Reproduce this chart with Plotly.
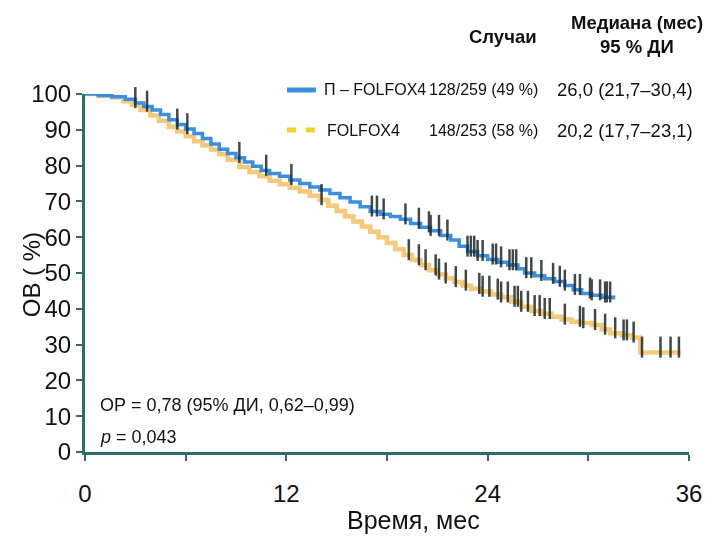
import numpy as np
import plotly.graph_objects as go

# ---- data ----
months_tick_vals = [0, 6, 12, 18, 24, 30, 36]
months_tick_text = ["0", "", "12", "", "24", "", "36"]
os_tick_vals = list(range(0, 101, 10))

arm_names = ["П – FOLFOX4", "FOLFOX4"]
arm_events = ["128/259 (49\u00a0%)", "148/253 (58\u00a0%)"]
arm_median = ["26,0 (21,7–30,4)", "20,2 (17,7–23,1)"]

p_t = [0, 0.8, 1.6, 2.4, 3.0, 3.5, 4.0, 4.5, 5.0, 5.5, 6.0, 6.5, 7.0, 7.5, 8.0, 8.5, 9.0, 9.5,
       10.0, 10.5, 11.0, 11.6, 12.2, 12.8, 13.4, 14.0, 14.6, 15.2, 15.8, 16.4, 17.0, 17.6, 18.2,
       18.8, 19.4, 20.0, 20.6, 21.2, 21.8, 22.3, 22.8, 23.4, 24.0, 24.6, 25.2, 25.8, 26.2, 26.8,
       27.4, 28.0, 28.6, 29.1, 29.6, 30.2, 30.8, 31.5]
p_s = [100, 99.6, 99.2, 98.5, 97.5, 96.5, 95.5, 94.3, 92.8, 91.5, 90.2, 89, 87.6, 86, 84.6, 83.4,
       82.2, 81, 79.8, 78.6, 77.8, 77, 76, 75, 74, 73.2, 72.2, 71, 69.8, 68.5, 67.2, 66.4, 65.8,
       65, 63.8, 62.8, 61.8, 60.5, 59.2, 57.5, 56, 54.8, 53.8, 53, 52.2, 51.2, 50, 49.2, 48.4,
       47.6, 46.5, 45.3, 44.3, 43.8, 43.2, 42.6]
p_cens = [0.7, 1.0, 1.3, 1.6, 3.0, 3.7, 5.5, 6.1, 9.2, 10.8, 12.3, 17.1, 17.4, 17.8, 19.1, 19.9,
          20.5, 20.6, 21.1, 21.6, 22.8, 23.0, 23.2, 23.4, 23.7, 24.3, 24.5, 24.8, 25.3, 25.5, 25.7,
          26.3, 26.6, 27.2, 27.9, 28.3, 28.6, 29.2, 29.5, 30.1, 30.2, 30.7, 31.0, 31.1, 31.3]

f_t = [0, 0.8, 1.6, 2.3, 2.8, 3.3, 3.9, 4.4, 5.0, 5.5, 6.0, 6.5, 7.0, 7.5, 8.0, 8.5, 9.2, 9.8,
       10.4, 11.0, 11.6, 12.2, 12.8, 13.4, 14.0, 14.5, 15.0, 15.5, 16.0, 16.5, 17.0, 17.5, 18.0,
       18.5, 19.0, 19.5, 20.0, 20.5, 21.0, 21.5, 22.0, 22.5, 23.0, 23.6, 24.2, 24.8, 25.4, 26.0,
       26.6, 27.2, 27.8, 28.4, 29.0, 29.6, 30.2, 30.8, 31.3, 32.0, 32.6, 33.1, 35.5]
f_s = [100, 99.5, 99, 98, 97, 95.5, 94, 92.5, 90.8, 89.5, 88.2, 86.8, 85.7, 84.5, 83.2, 81.6,
       79.6, 78.2, 77, 75.8, 74.8, 73.8, 72.8, 71.6, 70.4, 68.8, 67.3, 65.8, 64.4, 63, 61.5, 60,
       58.4, 56.6, 55, 53.6, 52.2, 50.8, 49.6, 48.5, 47.5, 46.5, 45.6, 44.8, 44, 43.2, 42, 40.6,
       39.4, 38.6, 37.8, 37, 36.4, 36, 35.5, 34.2, 33.2, 32.6, 32, 27.8, 27.8]
f_cens = [14.1, 19.3, 19.9, 20.3, 20.9, 21.1, 21.5, 22.1, 22.7, 23.5, 23.7, 24.1, 24.6, 24.8,
          25.2, 25.6, 25.8, 26.0, 26.4, 26.8, 27.1, 27.4, 27.7, 28.6, 29.5, 29.7, 30.4, 31.0,
          31.6, 32.1, 32.3, 32.7, 33.2, 34.3, 34.9, 35.4]

# ---- styling ----
W, H = 714, 538
L, R, T, B = 85, 22, 94, 86
BLUE = "#3a8fe0"
ORANGE = "#f4c46c"
YELLOW = "#f0d12c"
TEAL = "#2f6d6a"
CENS = "#1d2b2b"
FONT = "Liberation Sans, Arial, sans-serif"


def step_at(t, s, x):
    idx = np.searchsorted(np.asarray(t), np.asarray(x), side="right") - 1
    return np.asarray(s)[idx]


def px(x):
    return (x - L) / (W - L - R)


def py(y):
    return (H - B - y) / (H - T - B)


fig = go.Figure()
fig.add_trace(go.Scatter(x=f_t, y=f_s, mode="lines", line=dict(color=ORANGE, width=4.5, shape="hv"),
                         opacity=0.9, cliponaxis=False, showlegend=False, name=arm_names[1]))
fig.add_trace(go.Scatter(x=p_t, y=p_s, mode="lines", line=dict(color=BLUE, width=3.5, shape="hv"),
                         cliponaxis=False, showlegend=False, name=arm_names[0]))
fig.add_trace(go.Scatter(x=f_cens, y=step_at(f_t, f_s, f_cens) + 1.5, mode="markers",
                         marker=dict(symbol="line-ns", size=15, line=dict(color=CENS, width=2.5)),
                         opacity=0.85, cliponaxis=False, showlegend=False))
fig.add_trace(go.Scatter(x=p_cens, y=step_at(p_t, p_s, p_cens) + 1.5, mode="markers",
                         marker=dict(symbol="line-ns", size=15, line=dict(color=CENS, width=2.5)),
                         opacity=0.85, cliponaxis=False, showlegend=False))

fig.update_xaxes(range=[0, 36], tickvals=months_tick_vals, ticktext=months_tick_text,
                 showline=True, linecolor=TEAL, linewidth=3, ticks="outside", ticklen=6,
                 tickwidth=2, tickcolor=TEAL, showgrid=False, zeroline=False,
                 tickfont=dict(family=FONT, size=24, color="#111"), ticklabelstandoff=12)
fig.update_yaxes(range=[0, 100], tickvals=os_tick_vals, showline=True, linecolor=TEAL,
                 linewidth=3, ticks="outside", ticklen=6, tickwidth=2, tickcolor=TEAL,
                 showgrid=False, zeroline=False,
                 tickfont=dict(family=FONT, size=24, color="#111"))

ann = []
def text(x, y, s, size, xanchor="left", bold=False, angle=0):
    ann.append(dict(x=px(x), y=py(y), xref="paper", yref="paper", text=s, showarrow=False,
                    xanchor=xanchor, yanchor="middle", textangle=angle,
                    font=dict(family=FONT, size=size, color="#111",
                              weight="bold" if bold else "normal")))

text(505, 37, "Случаи", 18.5, "center", bold=True)
text(640, 22, "Медиана (мес)", 18.5, "center", bold=True)
text(640, 47, "95 % ДИ", 18.5, "center", bold=True)
rows_y = [90, 130]
text(323, rows_y[0], arm_names[0], 16)
text(326, rows_y[1], arm_names[1], 16)
for i in range(2):
    text(542, rows_y[i], arm_events[i], 16, "right")
    text(628, rows_y[i], arm_median[i], 18.5, "center")
text(98, 405, "ОР = 0,78 (95% ДИ, 0,62–0,99)", 18)
text(98, 437, "<i>p</i> = 0,043", 18)
text(415, 520, "Время, мес", 25, "center")
text(31, 275, "ОВ ( %)", 24, "center", angle=-90)

shapes = [
    dict(type="line", xref="paper", yref="paper", x0=px(288), x1=px(317), y0=py(rows_y[0]),
         y1=py(rows_y[0]), line=dict(color=BLUE, width=5)),
    dict(type="line", xref="paper", yref="paper", x0=px(288), x1=px(297), y0=py(rows_y[1]),
         y1=py(rows_y[1]), line=dict(color=YELLOW, width=5)),
    dict(type="line", xref="paper", yref="paper", x0=px(307), x1=px(316), y0=py(rows_y[1]),
         y1=py(rows_y[1]), line=dict(color=YELLOW, width=5)),
]

fig.update_layout(width=W, height=H, margin=dict(l=L, r=R, t=T, b=B),
                  paper_bgcolor="white", plot_bgcolor="white", annotations=ann, shapes=shapes,
                  showlegend=False)
fig.write_html("out.html")
